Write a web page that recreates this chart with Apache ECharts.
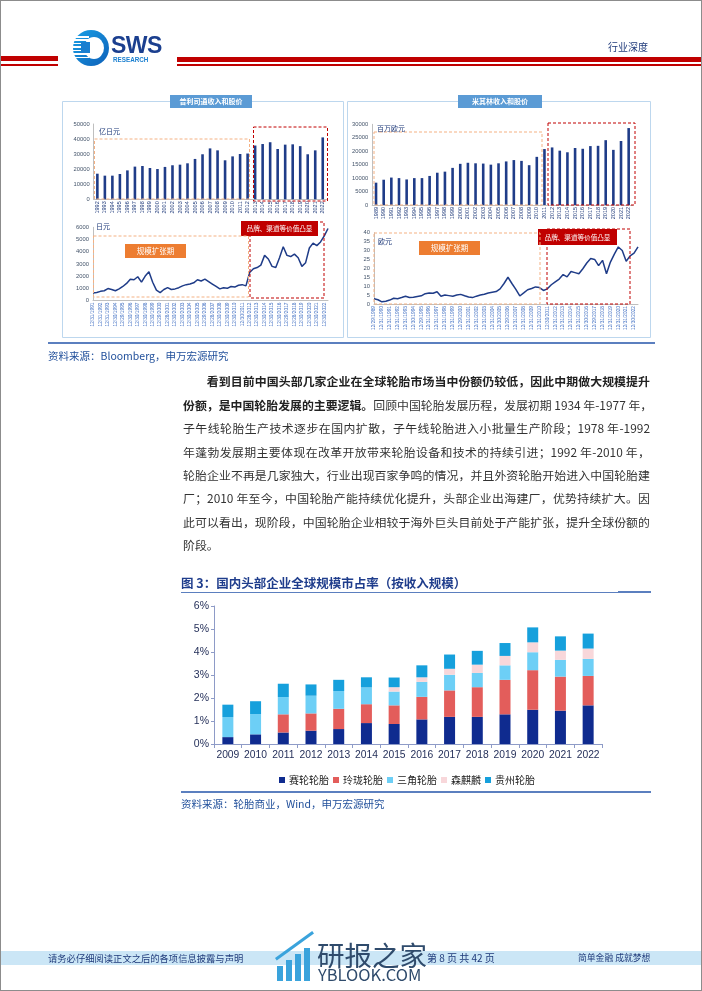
<!DOCTYPE html>
<html>
<head>
<meta charset="utf-8">
<script src="https://cdn.jsdelivr.net/npm/echarts@6/dist/echarts.min.js"></script>
<style>
html, body { margin: 0; padding: 0; background: #fff; }
#page { position: relative; width: 702px; height: 991px; overflow: hidden; background: #fff;
  font-family: "Noto Sans CJK SC", "Noto Sans", sans-serif; }
#chart { position: absolute; left: 0; top: 0; width: 702px; height: 991px; z-index: 1; }
.abs { position: absolute; white-space: nowrap; z-index: 2; }
.line { position: absolute; left: 183px; width: 467px; height: 23.4px; line-height: 23.4px; font-size: 11.9px;
  color: #333; text-align: justify; text-align-last: justify; white-space: nowrap; z-index: 2; }
.bold { font-weight: bold; color: #222; }
.src { font-size: 10.5px; color: #1f4e9a; }
.foot { color: #1f3a7a; top: 951px; line-height: 14px; }
</style>
</head>
<body>
<div id="page">
  <!-- header -->
  <div class="abs" style="left:0;top:56px;width:58px;height:5px;background:#c00000"></div>
  <div class="abs" style="left:0;top:64px;width:58px;height:1.5px;background:#c00000"></div>
  <div class="abs" style="left:177px;top:57px;width:525px;height:5px;background:#c00000"></div>
  <div class="abs" style="left:177px;top:64px;width:525px;height:1.5px;background:#c00000"></div>
  <div class="abs" style="left:73px;top:30px;width:36px;height:36px;border-radius:50%;background:linear-gradient(135deg,#1aa0e6,#0d5fb8);"></div>
  <div class="abs" style="left:73px;top:36px;width:16px;height:24px;background:repeating-linear-gradient(180deg,#fff 0,#fff 1.5px,transparent 1.5px,transparent 3.5px);"></div>
  <div class="abs" style="left:84px;top:37px;width:20px;height:22px;border-radius:50%;background:#fff;"></div>
  <div class="abs" style="left:81px;top:42px;width:9px;height:11px;background:#1a7fd0;"></div>
  <div class="abs" style="left:111px;top:32px;font-family:'Liberation Sans',Arial,sans-serif;font-weight:bold;font-size:23px;color:#1b3f8f;letter-spacing:-0.5px;">SWS</div>
  <div class="abs" style="left:113px;top:56px;font-family:'Liberation Sans',Arial,sans-serif;font-weight:bold;font-size:6.3px;color:#1a7fd0;">RESEARCH</div>
  <div class="abs" style="left:608px;top:39px;font-size:10px;color:#1f3a7a;">行业深度</div>

  <!-- source under top panels -->
  <div class="abs" style="left:48px;top:342px;width:607px;height:2px;background:#5b7fbf"></div>
  <div class="abs src" style="left:48px;top:348px;">资料来源：Bloomberg，申万宏源研究</div>

  <!-- body text -->
  <div class="line bold" style="top:369.3px;padding-left:23.8px;width:443.2px;">看到目前中国头部几家企业在全球轮胎市场当中份额仍较低，因此中期做大规模提升</div>
  <div class="line" style="top:392.7px;"><span class="bold">份额，是中国轮胎发展的主要逻辑。</span>回顾中国轮胎发展历程，发展初期 1934 年-1977 年，</div>
  <div class="line" style="top:416.1px;">子午线轮胎生产技术逐步在国内扩散，子午线轮胎进入小批量生产阶段；1978 年-1992</div>
  <div class="line" style="top:439.5px;">年蓬勃发展期主要体现在改革开放带来轮胎设备和技术的持续引进；1992 年-2010 年，</div>
  <div class="line" style="top:462.9px;">轮胎企业不再是几家独大，行业出现百家争鸣的情况，并且外资轮胎开始进入中国轮胎建</div>
  <div class="line" style="top:486.3px;">厂；2010 年至今，中国轮胎产能持续优化提升，头部企业出海建厂，优势持续扩大。因</div>
  <div class="line" style="top:509.7px;">此可以看出，现阶段，中国轮胎企业相较于海外巨头目前处于产能扩张，提升全球份额的</div>
  <div class="line" style="top:533.1px;text-align-last:left;">阶段。</div>

  <!-- figure 3 title -->
  <div class="abs" style="left:181px;top:573px;font-size:12.5px;font-weight:bold;color:#1f3d8c;">图 3：国内头部企业全球规模市占率（按收入规模）</div>
  <div class="abs" style="left:181px;top:592px;width:470px;height:1px;background:#5b7fbf"></div>
  <div class="abs" style="left:618px;top:591px;width:33px;height:2px;background:#5b7fbf"></div>

  <!-- source under figure 3 -->
  <div class="abs" style="left:181px;top:791px;width:470px;height:1.5px;background:#5b7fbf"></div>
  <div class="abs src" style="left:181px;top:796px;">资料来源：轮胎商业，Wind，申万宏源研究</div>

  <!-- footer -->
  <div class="abs" style="left:0;top:951px;width:702px;height:14px;background:#cbe6f6"></div>
  <div class="abs foot" style="left:48px;font-size:9.3px;">请务必仔细阅读正文之后的各项信息披露与声明</div>
  <div class="abs foot" style="left:427px;font-size:10px;">第 8 页 共 42 页</div>
  <div class="abs foot" style="left:578px;font-size:8.8px;">简单金融 成就梦想</div>
  <!-- watermark -->
  <div class="abs" style="left:277px;top:966px;width:6px;height:15px;background:#3aa3dc;z-index:3"></div>
  <div class="abs" style="left:286px;top:960px;width:6px;height:21px;background:#3aa3dc;z-index:3"></div>
  <div class="abs" style="left:295px;top:954px;width:6px;height:27px;background:#3aa3dc;z-index:3"></div>
  <div class="abs" style="left:304px;top:948px;width:6px;height:33px;background:#3aa3dc;z-index:3"></div>
  <div class="abs" style="left:275px;top:958px;width:46px;height:3px;background:#3aa3dc;transform:rotate(-36deg);transform-origin:0 0;z-index:3"></div>
  <div class="abs" style="left:317px;top:941px;font-size:27.5px;line-height:1;color:#2f4b6c;z-index:3;">研报之家</div>
  <div class="abs" style="left:318px;top:966px;font-size:16.5px;line-height:1;color:#2f4b6c;z-index:3;">YBLOOK.COM</div>

  <div id="chart"></div>
  <div class="abs" style="left:0;top:0;width:700px;height:989px;border:1px solid #8c8c8c;z-index:4;pointer-events:none;"></div>
</div>

<script>
const CJK = 'Noto Sans CJK SC';
const LAT = 'Liberation Sans';

// 普利司通 revenue (亿日元)
const bsYears = ['1992','1993','1994','1995','1996','1997','1998','1999','2000','2001','2002','2003','2004','2005','2006','2007','2008','2009','2010','2011','2012','2013','2014','2015','2016','2017','2018','2019','2020','2021','2022'];
const bsRevenue = [17000,15700,15700,16800,19200,21700,22100,20800,20100,21500,22600,23000,23900,26800,29900,33800,32500,25900,28500,30100,30400,35700,36700,37900,33400,36300,36500,35300,29900,32500,41100];

// 普利司通 share price (日元)
const bsDates = ('12/31/1991 06/30/1992 12/31/1992 06/30/1993 12/31/1993 06/30/1994 12/30/1994 06/30/1995 12/29/1995 06/28/1996 ' +
  '12/30/1996 06/30/1997 12/30/1997 06/30/1998 12/30/1998 06/30/1999 12/30/1999 06/30/2000 12/29/2000 06/29/2001 ' +
  '12/28/2001 06/28/2002 12/30/2002 06/30/2003 12/30/2003 06/30/2004 12/30/2004 06/30/2005 12/30/2005 06/30/2006 ' +
  '12/29/2006 06/29/2007 12/28/2007 06/30/2008 12/30/2008 06/30/2009 12/30/2009 06/30/2010 12/30/2010 06/30/2011 ' +
  '12/30/2011 06/29/2012 12/28/2012 06/28/2013 12/30/2013 06/30/2014 12/30/2014 06/30/2015 12/30/2015 06/30/2016 ' +
  '12/30/2016 06/30/2017 12/29/2017 06/29/2018 12/28/2018 06/28/2019 12/30/2019 06/30/2020 12/30/2020 06/30/2021 ' +
  '12/30/2021 06/30/2022 12/30/2022 06/30/2023').split(' ');
const bsPrice = [620,650,750,800,980,900,800,950,1150,1400,
  1750,1700,1950,1500,2000,2350,1500,850,650,900,
  1050,900,950,1050,1200,1300,1350,1450,1700,1600,
  1750,1550,1350,1150,950,1050,1000,1150,1100,1250,
  1300,1200,2300,2600,2700,2900,3700,3400,2800,2700,
  3500,4400,3700,3600,3800,3500,2800,3100,4300,4700,
  4500,4800,5300,5900];

// 米其林 revenue (百万欧元)
const mlYears = ['1989','1990','1991','1992','1993','1994','1995','1996','1997','1998','1999','2000','2001','2002','2003','2004','2005','2006','2007','2008','2009','2010','2011','2012','2013','2014','2015','2016','2017','2018','2019','2020','2021','2022'];
const mlRevenue = [8300,9400,10200,10000,9500,10000,10000,10800,12000,12400,13800,15300,15700,15500,15400,15000,15500,16200,16700,16400,14800,17900,20800,21400,20200,19600,21200,20900,21900,22000,24100,20500,23800,28600];

// 米其林 share price (欧元)
const mlDates = ('12/29/1989 06/29/1990 12/31/1990 06/28/1991 12/31/1991 06/30/1992 12/31/1992 06/30/1993 12/31/1993 06/30/1994 ' +
  '12/30/1994 06/30/1995 12/29/1995 06/28/1996 12/31/1996 06/30/1997 12/31/1997 06/30/1998 12/31/1998 06/30/1999 ' +
  '12/31/1999 06/30/2000 12/29/2000 06/29/2001 12/31/2001 06/28/2002 12/31/2002 06/30/2003 12/31/2003 06/30/2004 ' +
  '12/31/2004 06/30/2005 12/30/2005 06/30/2006 12/29/2006 06/29/2007 12/31/2007 06/30/2008 12/31/2008 06/30/2009 ' +
  '12/31/2009 06/30/2010 12/31/2010 06/30/2011 12/30/2011 06/29/2012 12/31/2012 06/28/2013 12/31/2013 06/30/2014 ' +
  '12/31/2014 06/30/2015 12/31/2015 06/30/2016 12/30/2016 06/30/2017 12/29/2017 06/29/2018 12/31/2018 06/28/2019 ' +
  '12/31/2019 06/30/2020 12/31/2020 06/30/2021 12/31/2021 06/30/2022 12/30/2022 06/30/2023').split(' ');
const mlPrice = [3.0,2.4,1.2,1.5,2.2,3.2,3.0,3.6,4.3,3.7,
  3.8,4.2,4.6,5.8,6.2,6.0,6.9,4.4,5.0,4.7,
  4.4,5.0,5.4,4.6,3.9,3.6,4.4,5.0,5.5,6.2,
  6.6,7.0,8.5,11.5,15.0,11.5,8.2,4.5,6.2,8.0,
  8.7,9.6,9.2,7.6,8.5,10.8,12.4,14.0,16.5,15.2,
  18.2,17.6,17.0,19.8,23.0,25.5,25.0,21.5,24.5,17.0,
  23.5,28.0,32.0,30.0,24.0,27.0,28.5,32.0];

// 图3: market share (%) by company
const shareYears = ['2009','2010','2011','2012','2013','2014','2015','2016','2017','2018','2019','2020','2021','2022'];
const sailun   = [0.30,0.42,0.50,0.58,0.65,0.91,0.87,1.07,1.18,1.18,1.29,1.49,1.45,1.68];
const linglong = [0,0,0.79,0.75,0.88,0.82,0.81,0.98,1.15,1.29,1.50,1.72,1.48,1.28];
const sanjiao  = [0.87,0.88,0.75,0.77,0.77,0.73,0.60,0.65,0.68,0.62,0.63,0.78,0.73,0.74];
const senqilin = [0,0,0,0,0,0,0.19,0.20,0.26,0.36,0.41,0.43,0.40,0.45];
const guizhou  = [0.54,0.56,0.58,0.49,0.49,0.44,0.42,0.52,0.62,0.60,0.56,0.65,0.62,0.65];
const shareNames = ['赛轮轮胎','玲珑轮胎','三角轮胎','森麒麟','贵州轮胎'];
const shareColors = ['#0f2b8f','#e35d5b','#6dcff6','#f8d7da','#16a0dc'];

const NAVY = '#1f3c88';
const axisGray = '#bfbfbf';

function dashBox(x, y, w, h, color) {
  return { type: 'rect', z: 10, shape: { x: x, y: y, width: w, height: h },
    style: { fill: 'none', stroke: color, lineWidth: 1, lineDash: [3, 2] } };
}
function tagBox(x, y, w, h, fill, text, size, bold) {
  return { type: 'group', z: 11, children: [
    { type: 'rect', shape: { x: x, y: y, width: w, height: h }, style: { fill: fill } },
    { type: 'text', x: x + w / 2, y: y + h / 2, style: { text: text, fill: '#fff', fontSize: size,
      fontFamily: CJK, fontWeight: bold ? 'bold' : 'normal', align: 'center', verticalAlign: 'middle' } }
  ] };
}
function unitText(x, y, text) {
  return { type: 'text', z: 11, x: x, y: y, style: { text: text, fill: '#1f3a7a', fontSize: 7, fontFamily: CJK, verticalAlign: 'middle' } };
}

const smallY = (max, step) => ({
  type: 'value', min: 0, max: max, interval: step,
  axisLine: { show: true, lineStyle: { color: axisGray } },
  axisTick: { show: false }, splitLine: { show: false },
  axisLabel: { fontSize: 5.8, color: '#44546a', margin: 4, fontFamily: LAT, formatter: v => String(v) }
});
const yearX = (data) => ({
  type: 'category', data: data,
  axisLine: { lineStyle: { color: axisGray } }, axisTick: { show: false },
  axisLabel: { interval: 0, rotate: 90, fontSize: 5.5, color: '#1f3a7a', margin: 2, fontFamily: LAT }
});
const dateX = (data) => ({
  type: 'category', data: data, boundaryGap: false,
  axisLine: { lineStyle: { color: axisGray } }, axisTick: { show: false },
  axisLabel: { interval: 1, rotate: 90, fontSize: 4.8, color: '#4472c4', margin: 2, fontFamily: LAT }
});

const chart = echarts.init(document.getElementById('chart'));

chart.setOption({
  animation: false,
  grid: [
    { left: 93.6, width: 232.9, top: 124, height: 75.3 },
    { left: 93, width: 235, top: 227.3, height: 73.2 },
    { left: 372.2, width: 260.3, top: 124.3, height: 80.7 },
    { left: 374, width: 264, top: 232.7, height: 71.3 },
    { left: 214, width: 388, top: 606, height: 138 }
  ],
  xAxis: [
    Object.assign(yearX(bsYears), { gridIndex: 0 }),
    Object.assign(dateX(bsDates), { gridIndex: 1 }),
    Object.assign(yearX(mlYears), { gridIndex: 2 }),
    Object.assign(dateX(mlDates), { gridIndex: 3 }),
    {
      gridIndex: 4, type: 'category', data: shareYears,
      axisLine: { lineStyle: { color: '#8e9bc7' } },
      axisTick: { show: true, length: 4, lineStyle: { color: '#8e9bc7' } },
      axisLabel: { interval: 0, fontSize: 10.3, color: '#25305a', margin: 6, fontFamily: LAT }
    }
  ],
  yAxis: [
    Object.assign(smallY(50000, 10000), { gridIndex: 0 }),
    Object.assign(smallY(6000, 1000), { gridIndex: 1 }),
    Object.assign(smallY(30000, 5000), { gridIndex: 2 }),
    Object.assign(smallY(40, 5), { gridIndex: 3 }),
    {
      gridIndex: 4, type: 'value', min: 0, max: 6, interval: 1,
      axisLine: { show: true, lineStyle: { color: '#8e9bc7' } },
      axisTick: { show: true, length: 3, lineStyle: { color: '#8e9bc7' } },
      splitLine: { show: false },
      axisLabel: { formatter: '{value}%', fontSize: 10.5, color: '#25305a', margin: 5, fontFamily: LAT }
    }
  ],
  legend: {
    left: 274, top: 770, itemWidth: 6, itemHeight: 6, itemGap: 4, icon: 'rect',
    textStyle: { fontSize: 10, color: '#222', fontFamily: CJK, padding: [0, 0, 0, -1] },
    data: shareNames
  },
  series: [
    { type: 'bar', xAxisIndex: 0, yAxisIndex: 0, data: bsRevenue, barWidth: 2.6, itemStyle: { color: NAVY } },
    { type: 'line', xAxisIndex: 1, yAxisIndex: 1, data: bsPrice, showSymbol: false, lineStyle: { color: NAVY, width: 1.5 } },
    { type: 'bar', xAxisIndex: 2, yAxisIndex: 2, data: mlRevenue, barWidth: 2.6, itemStyle: { color: NAVY } },
    { type: 'line', xAxisIndex: 3, yAxisIndex: 3, data: mlPrice, showSymbol: false, lineStyle: { color: NAVY, width: 1.5 } }
  ].concat([sailun, linglong, sanjiao, senqilin, guizhou].map((vals, i) => ({
    name: shareNames[i], type: 'bar', stack: 'share', xAxisIndex: 4, yAxisIndex: 4,
    data: vals, barWidth: 11, itemStyle: { color: shareColors[i] }
  }))),
  graphic: [
    // panel frames and title tabs
    { type: 'rect', z: 0, shape: { x: 62.5, y: 101.5, width: 281, height: 236 }, style: { fill: 'none', stroke: '#bdd7ee', lineWidth: 1 } },
    { type: 'rect', z: 0, shape: { x: 347.5, y: 101.5, width: 303, height: 236 }, style: { fill: 'none', stroke: '#bdd7ee', lineWidth: 1 } },
    tagBox(170, 95, 82, 13, '#5b9bd5', '普利司通收入和股价', 7, true),
    tagBox(458, 95, 84, 13, '#5b9bd5', '米其林收入和股价', 7, true),
    unitText(99, 131.5, '亿日元'),
    unitText(96, 226, '日元'),
    unitText(377, 128.5, '百万欧元'),
    unitText(378, 241, '欧元'),
    // dashed period boxes
    dashBox(94.5, 139, 155, 60, '#f4b183'),
    dashBox(253.5, 127, 74, 74, '#c00000'),
    dashBox(93.5, 236, 155, 61, '#f4b183'),
    dashBox(250, 222, 74, 76, '#c00000'),
    dashBox(374, 132, 168, 73, '#f4b183'),
    dashBox(548, 123, 87, 82, '#c00000'),
    dashBox(374, 233, 166, 71, '#f4b183'),
    dashBox(547, 229, 83, 75, '#c00000'),
    tagBox(125, 244, 61, 14, '#ed7d31', '规模扩张期', 7.5),
    tagBox(241, 221, 77, 15, '#c00000', '品牌、渠道等价值凸显', 6.6),
    tagBox(419, 241, 61, 14, '#ed7d31', '规模扩张期', 7.5),
    tagBox(538, 229, 79, 16, '#c00000', '品牌、渠道等价值凸显', 6.6)
  ]
});
</script>
</body>
</html>
